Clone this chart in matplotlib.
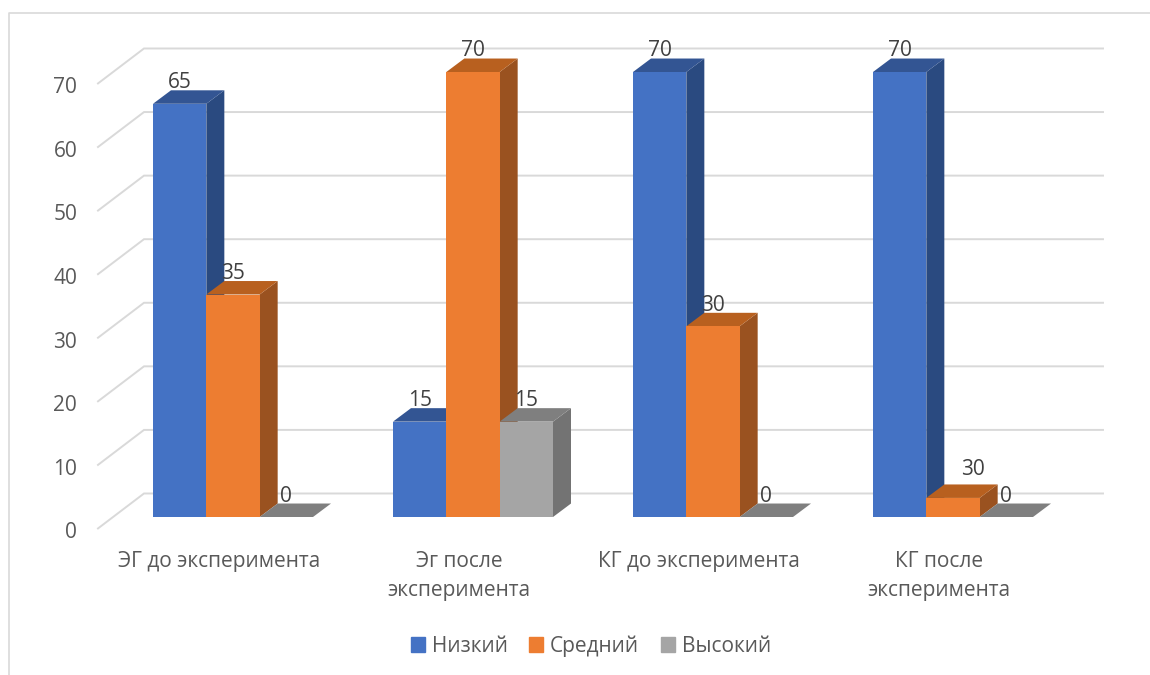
import numpy as np
import matplotlib
matplotlib.use("Agg")
import matplotlib.pyplot as plt
from matplotlib.lines import Line2D
from matplotlib.patches import Patch

plt.rcParams['font.family'] = ['Open Sans', 'DejaVu Sans']

categories = ["ЭГ до эксперимента", "Эг после\nэксперимента", "КГ до эксперимента", "КГ после\nэксперимента"]
series_names = ["Низкий", "Средний", "Высокий"]
# the last orange bar is drawn short in the source but labelled 30
nizkiy = [65, 15, 70, 70]
sredniy = [35, 70, 30, 3]
vysokiy = [0, 15, 0, 0]
nizkiy_labels = ["65", "15", "70", "70"]
sredniy_labels = ["35", "70", "30", "30"]
vysokiy_labels = ["0", "15", "0", "0"]
y_ticks = [0, 10, 20, 30, 40, 50, 60, 70]

front_colors = ["#4472C4", "#ED7D31", "#A5A5A5"]
top_colors = ["#335593", "#B8601F", "#7F7F7F"]
side_colors = ["#2A4A80", "#9A5220", "#737373"]

grid_color = "#D9D9D9"
W, H = 1150, 675
bar_w = 2 / 9
# fake 3d depth, in data units
depth_x, depth_y = 18 / 240, 2.12
wall_x, wall_back, wall_front = 46 / 240, 3.7, -1.8
x_left, x_right = -0.5625, 3.625
y_bottom = -3
px_per_unit = 445 / 70

fig = plt.figure(figsize=(W / 100, H / 100), dpi=100)
ax_h = 445 - y_bottom * px_per_unit
ax = fig.add_axes([98 / W, (H - 72 - ax_h) / H, (1103 - 98) / W, ax_h / H])
for s in ax.spines.values():
    s.set_visible(False)
ax.patch.set_visible(False)

# chart border
fig.add_artist(Line2D([9 / W, 9 / W, 1], [0, 1 - 13 / H, 1 - 13 / H], color=grid_color, lw=1.2))

# gridlines on the back wall and the side wall
for v in y_ticks:
    ax.plot([x_left, x_left + wall_x, x_right], [v + wall_front, v + wall_back, v + wall_back],
            color=grid_color, lw=1.4, clip_on=False, zorder=1, solid_joinstyle="miter")

x_pos = np.arange(len(categories))
offsets = [-bar_w, 0, bar_w]
all_values = [nizkiy, sredniy, vysokiy]
all_labels = [nizkiy_labels, sredniy_labels, vysokiy_labels]

z = 2
for g in x_pos:
    for k in range(3):
        val = all_values[k][g]
        left = g + offsets[k] - bar_w / 2
        right = left + bar_w
        # side face
        ax.fill([right, right + depth_x, right + depth_x, right],
                [0, depth_y, val + depth_y, val],
                color=side_colors[k], lw=0, clip_on=False, zorder=z)
        # top face
        ax.fill([left, left + depth_x, right + depth_x, right],
                [val, val + depth_y, val + depth_y, val],
                color=top_colors[k], lw=0, clip_on=False, zorder=z)
        # front face
        ax.bar(g + offsets[k], val, width=bar_w, color=front_colors[k], clip_on=False, zorder=z)
        z += 1

for k in range(3):
    for g in x_pos:
        dx = 0
        dy = 21
        if all_labels[k][g] == "30" and all_values[k][g] == 3:
            dx, dy = 20, 28
        ax.annotate(all_labels[k][g], (g + offsets[k], all_values[k][g]), xytext=(dx, dy),
                    textcoords="offset pixels", ha="center", va="center",
                    fontsize=15, color="#404040", zorder=100, annotation_clip=False)

ax.set_yticks(np.array(y_ticks) - 2.1, labels=[str(v) for v in y_ticks])
ax.set_xticks(x_pos - 14 / 240, labels=categories)
# set_yticks widens the limits, so set them afterwards
ax.set_xlim(x_left, x_right)
ax.set_ylim(y_bottom, 70)
ax.tick_params(axis="y", length=0, pad=15, labelsize=15, labelcolor="#595959")
ax.tick_params(axis="x", length=0, pad=11, labelsize=15, labelcolor="#595959")
for lab in ax.get_xticklabels():
    lab.set_linespacing(1.45)

handles = [Patch(color=c, label=n) for c, n in zip(front_colors, series_names)]
fig.legend(handles=handles, loc="center", bbox_to_anchor=(591 / W, 1 - 646 / H), ncol=3, frameon=False,
           fontsize=15, labelcolor="#595959", handlelength=0.67, handleheight=0.67,
           handletextpad=0.33, columnspacing=1.05, borderpad=0)

fig.savefig("out.png", dpi=100, facecolor="white")
